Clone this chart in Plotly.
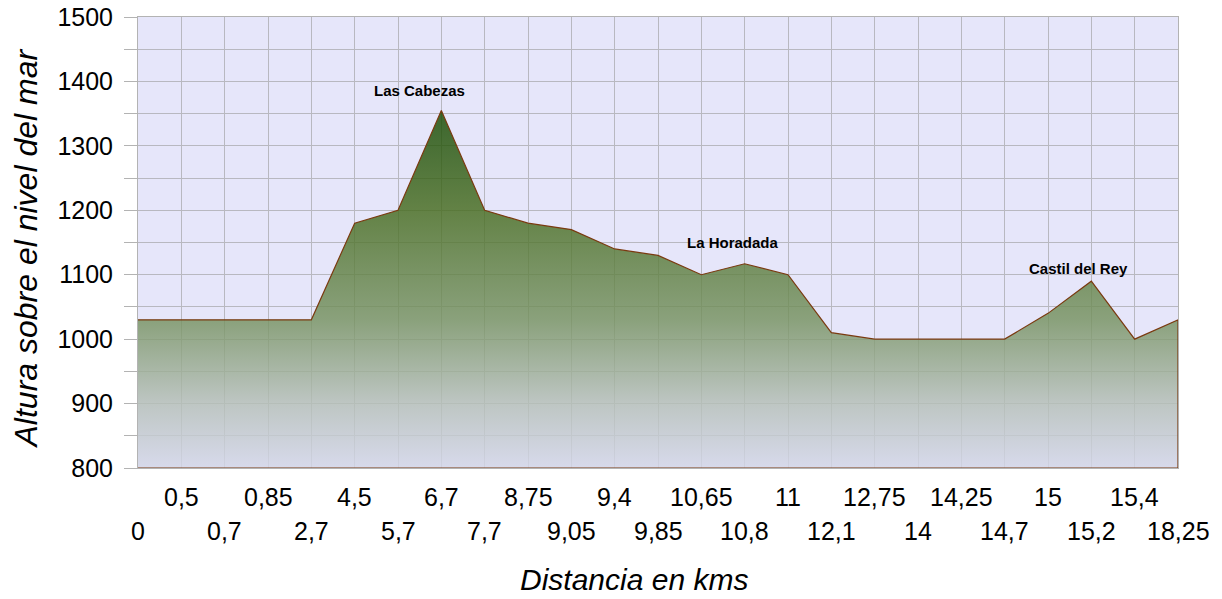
import plotly.graph_objects as go

# ---- data ----
distances = ["0", "0,5", "0,7", "0,85", "2,7", "4,5", "5,7", "6,7", "7,7", "8,75",
             "9,05", "9,4", "9,85", "10,65", "10,8", "11", "12,1", "12,75", "14",
             "14,25", "14,7", "15", "15,2", "15,4", "18,25"]
altitudes = [1030, 1030, 1030, 1030, 1030, 1180, 1200, 1355, 1200, 1180,
             1170, 1140, 1130, 1100, 1117, 1100, 1010, 1000, 1000,
             1000, 1000, 1040, 1090, 1000, 1030]
places = ["Las Cabezas", "La Horadada", "Castil del Rey"]
place_at = ["6,7", "10,8", "15,2"]
place_shift = [(-22, 20), (-12, 21), (-13, 13)]
y_min, y_max = 800, 1500
y_labels = [800, 900, 1000, 1100, 1200, 1300, 1400, 1500]

FONT = "Liberation Sans, Arial, sans-serif"
GRID = "#b8b8c0"

poly_x = distances + [distances[-1], distances[0]]
poly_y = altitudes + [y_min, y_min]

fig = go.Figure()
fig.add_trace(go.Scatter(
    x=poly_x, y=poly_y, mode="lines", fill="toself",
    line=dict(color="#7a3a10", width=1.2),
    fillgradient=dict(
        type="vertical",
        colorscale=[
            [0.0, "rgba(212,215,232,0.82)"],
            [0.18, "rgba(181,191,183,0.82)"],
            [0.414, "rgba(118,146,96,0.82)"],
            [0.72, "rgba(70,108,30,0.82)"],
            [1.0, "rgba(22,74,0,0.82)"],
        ],
    ),
    hoverinfo="skip", showlegend=False,
))

annotations = []
for i, lab in enumerate(distances):
    annotations.append(dict(
        x=i, y=0, xref="x", yref="paper", text=lab, showarrow=False,
        yanchor="middle", yshift=(-63 if i % 2 == 0 else -29),
        font=dict(family=FONT, size=25, color="#000000"),
    ))
for name, at, (dx, dy) in zip(places, place_at, place_shift):
    k = distances.index(at)
    annotations.append(dict(
        x=k, y=altitudes[k], xref="x", yref="y", text="<b>" + name + "</b>",
        showarrow=False, xshift=dx, yshift=dy, yanchor="middle",
        font=dict(family=FONT, size=15, color="#000000"),
    ))
annotations.append(dict(
    x=0.5, y=0, xref="paper", yref="paper", text="<i>Distancia en kms</i>", showarrow=False,
    yanchor="middle", yshift=-111, xshift=-24,
    font=dict(family=FONT, size=30, color="#000000"),
))
annotations.append(dict(
    x=0, y=0.5, xref="paper", yref="paper", text="<i>Altura sobre el nivel del mar</i>",
    showarrow=False, textangle=-90, xanchor="center", xshift=-113, yshift=-6,
    font=dict(family=FONT, size=32, color="#000000"),
))

fig.update_layout(
    width=1222, height=599,
    margin=dict(l=138, r=44, t=17, b=131, autoexpand=False),
    paper_bgcolor="white", plot_bgcolor="#e6e6fa",
    annotations=annotations,
    xaxis=dict(
        type="category", categoryorder="array", categoryarray=distances,
        range=[0, len(distances) - 1], showgrid=True, gridcolor=GRID, gridwidth=1,
        showticklabels=False, ticks="", showline=True, linecolor="#b3b3b3",
        mirror=True, zeroline=False, fixedrange=True, automargin=False,
    ),
    yaxis=dict(
        range=[y_min, y_max], tickvals=y_labels, showgrid=True, gridcolor=GRID,
        ticks="outside", ticklen=13, tickcolor="#b3b3b3", ticklabelstandoff=6,
        tickfont=dict(family=FONT, size=25, color="#000000"),
        minor=dict(dtick=50, ticks="outside", ticklen=13, tickcolor="#b3b3b3",
                   showgrid=True, gridcolor=GRID),
        showline=True, linecolor="#b3b3b3", mirror=True, zeroline=False,
        automargin=False,
    ),
)

fig.write_html("out.html", config={"displayModeBar": False},
               post_script="document.body.style.margin='0';")
